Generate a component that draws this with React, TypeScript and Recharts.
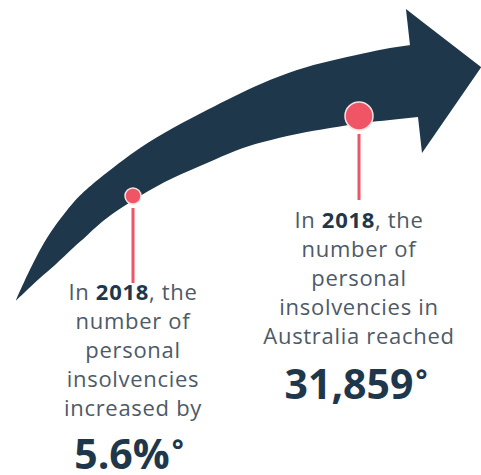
import { Area, ComposedChart, ReferenceLine, Scatter, XAxis, YAxis } from "recharts"

// arrow shaft (x across, y down from the top)
const shaftX = [16, 25, 40, 55, 73, 87, 107, 140, 173, 207, 235, 263, 297, 330, 363, 390, 418]
const shaftTop = [300, 280, 250, 226, 203, 189, 172.5, 148, 128, 110, 96, 83, 70, 61, 53.5, 48, 44]
const shaftBottom = [300.5, 292, 278, 265, 248, 235.5, 218, 196, 178, 163, 151, 142, 134, 128, 123, 120, 117]

// arrow head
const headX = [406, 422, 481]
const headTop = [9, 21.4, 67]
const headBottom = [9.5, 153, 67.5]

// the two milestones on the arrow
const markerX = [133, 359]
const markerY = [196, 116]
const markerR = [8, 14]
const pinEnd = [283, 200]

const shaft = shaftX.map((x, i) => ({ x, top: shaftTop[i], bottom: shaftBottom[i] }))
const head = headX.map((x, i) => ({ x, top: headTop[i], bottom: headBottom[i] }))
const markers = markerX.map((x, i) => ({ x, y: markerY[i], r: markerR[i] }))

const NAVY = "#1f374b"
const PINK = "#f05565"
const TEXT = "#4d5a68"
const FONT = "'Open Sans', sans-serif"

const body: React.CSSProperties = {
  position: "absolute",
  width: 240,
  textAlign: "center",
  fontFamily: FONT,
  fontSize: 22,
  letterSpacing: 0.7,
  lineHeight: "29px",
  color: TEXT,
}
const big: React.CSSProperties = {
  position: "absolute",
  width: 240,
  textAlign: "center",
  fontFamily: FONT,
  fontSize: 41,
  lineHeight: "32px",
  fontWeight: 700,
  color: NAVY,
}
const degree: React.CSSProperties = { fontSize: 28, position: "relative", top: -9, marginLeft: 2 }

function Marker(props: any) {
  const { cx, cy, payload } = props
  return <circle cx={cx} cy={cy} r={payload.r} fill={PINK} stroke="#f3e3e3" strokeWidth={1.5} />
}

export default function App() {
  return (
    <div style={{ position: "absolute", left: 0, top: 0, width: 481, height: 475, background: "#fff", overflow: "hidden" }}>
      <ComposedChart width={481} height={475} margin={{ top: 0, right: 0, left: 0, bottom: 0 }}>
        <XAxis type="number" dataKey="x" domain={[0, 481]} hide />
        <YAxis type="number" domain={[0, 475]} reversed hide />
        <Area
          data={shaft}
          dataKey={(d: any) => [d.bottom, d.top]}
          type="natural"
          fill={NAVY}
          fillOpacity={1}
          stroke="none"
          dot={false}
          activeDot={false}
          isAnimationActive={false}
        />
        <Area
          data={head}
          dataKey={(d: any) => [d.bottom, d.top]}
          type="linear"
          fill={NAVY}
          fillOpacity={1}
          stroke="none"
          dot={false}
          activeDot={false}
          isAnimationActive={false}
        />
        {markers.map((m, i) => (
          <ReferenceLine
            key={i}
            segment={[
              { x: m.x, y: m.y + m.r + 4 },
              { x: m.x, y: pinEnd[i] },
            ]}
            stroke={PINK}
            strokeWidth={3}
          />
        ))}
        <Scatter data={markers} dataKey="y" shape={<Marker />} isAnimationActive={false} />
      </ComposedChart>

      <div style={{ ...body, left: 13, top: 277 }}>
        In <b style={{ color: NAVY }}>2018</b>, the
        <br />
        number of
        <br />
        personal
        <br />
        insolvencies
        <br />
        increased by
      </div>
      <div style={{ ...big, left: 9, top: 437 }}>
        5.6%<span style={degree}>°</span>
      </div>

      <div style={{ ...body, left: 239, top: 205 }}>
        In <b style={{ color: NAVY }}>2018</b>, the
        <br />
        number of
        <br />
        personal
        <br />
        insolvencies in
        <br />
        Australia reached
      </div>
      <div style={{ ...big, left: 236, top: 367 }}>
        31,859<span style={degree}>°</span>
      </div>
    </div>
  )
}
